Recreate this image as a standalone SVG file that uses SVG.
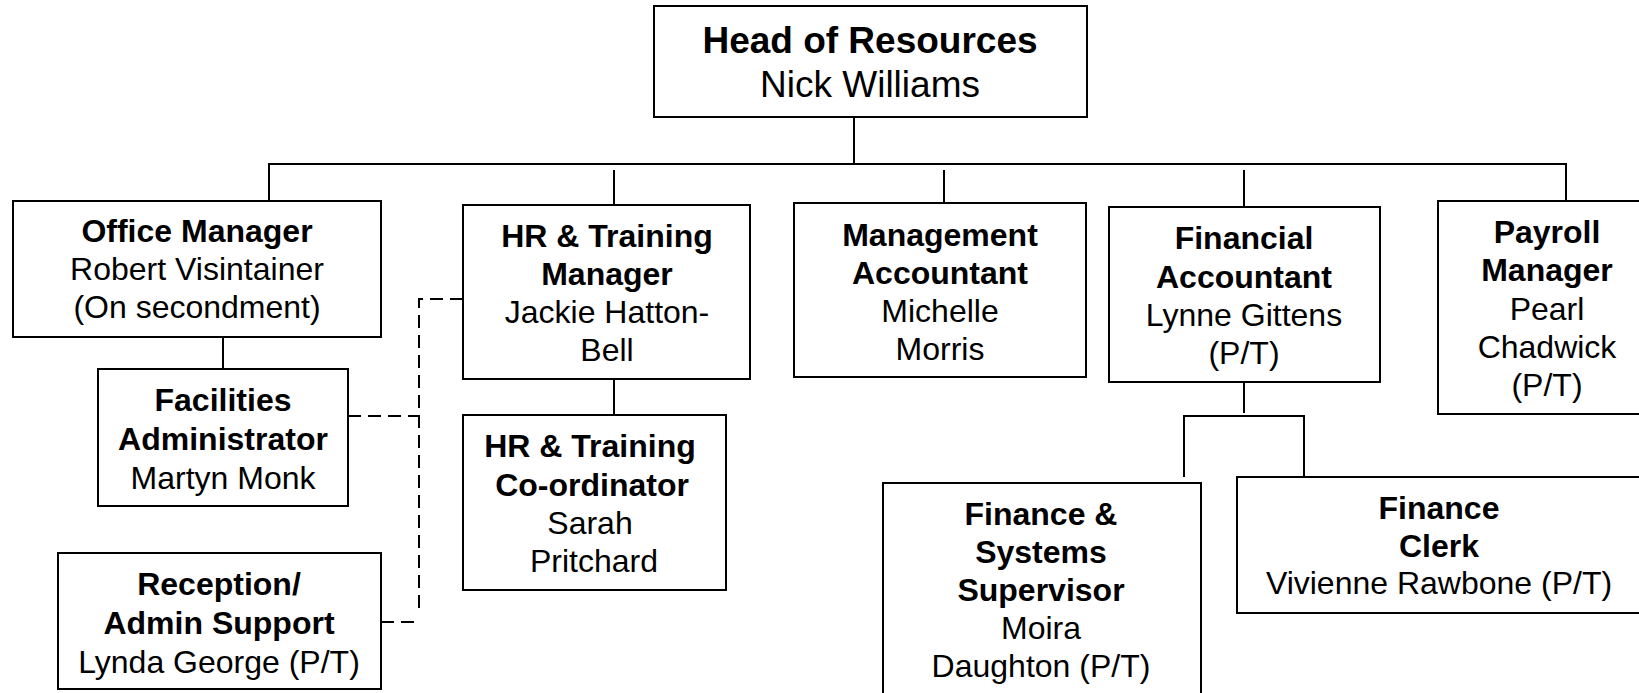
<svg xmlns="http://www.w3.org/2000/svg" width="1639" height="693" viewBox="0 0 1639 693">
<style>
.box{fill:#fff;stroke:#000;stroke-width:2}
.ln{fill:none;stroke:#000;stroke-width:2}
.dash{fill:none;stroke:#000;stroke-width:2;stroke-dasharray:13 7}
text{font-family:"Liberation Sans",Arial,sans-serif;font-size:32px;fill:#000;text-anchor:middle}
.b{font-weight:bold}
.h{font-size:37px}
</style>
<rect width="1639" height="693" fill="#fff"/>
<g id="connectors">
<path class="ln" d="M854 117V164M269 201V164H1566V201M614 170V205M944 170V203M1244 170V207"/>
<path class="ln" d="M223 337V369M614 379V415"/>
<path class="ln" d="M1244 382V413M1184 477V416H1304V477"/>
<path class="dash" d="M463 299H419V613M348 416H419M381 622H421"/>
</g>
<g id="head">
<rect class="box" x="654" y="6" width="433" height="111"/>
<text class="b h" x="870" y="53">Head of Resources</text>
<text class="h" x="870" y="97">Nick Williams</text>
</g>
<g id="office-manager">
<rect class="box" x="13" y="201" width="368" height="136"/>
<text class="b" x="197" y="242">Office Manager</text>
<text x="197" y="280">Robert Visintainer</text>
<text x="197" y="318">(On secondment)</text>
</g>
<g id="hr-manager">
<rect class="box" x="463" y="205" width="287" height="174"/>
<text class="b" x="607" y="247">HR &amp; Training</text>
<text class="b" x="607" y="285">Manager</text>
<text x="607" y="323">Jackie Hatton-</text>
<text x="607" y="361">Bell</text>
</g>
<g id="management-accountant">
<rect class="box" x="794" y="203" width="292" height="174"/>
<text class="b" x="940" y="246">Management</text>
<text class="b" x="940" y="284">Accountant</text>
<text x="940" y="322">Michelle</text>
<text x="940" y="360">Morris</text>
</g>
<g id="financial-accountant">
<rect class="box" x="1109" y="207" width="271" height="175"/>
<text class="b" x="1244" y="249">Financial</text>
<text class="b" x="1244" y="288">Accountant</text>
<text x="1244" y="326">Lynne Gittens</text>
<text x="1244" y="364">(P/T)</text>
</g>
<g id="payroll-manager">
<rect class="box" x="1438" y="201" width="220" height="213"/>
<text class="b" x="1547" y="243">Payroll</text>
<text class="b" x="1547" y="281">Manager</text>
<text x="1547" y="320">Pearl</text>
<text x="1547" y="358">Chadwick</text>
<text x="1547" y="396">(P/T)</text>
</g>
<g id="facilities-administrator">
<rect class="box" x="98" y="369" width="250" height="137"/>
<text class="b" x="223" y="411">Facilities</text>
<text class="b" x="223" y="450">Administrator</text>
<text x="223" y="489">Martyn Monk</text>
</g>
<g id="hr-coordinator">
<rect class="box" x="463" y="415" width="263" height="175"/>
<text class="b" x="590" y="457">HR &amp; Training</text>
<text class="b" x="592" y="496">Co-ordinator</text>
<text x="590" y="534">Sarah</text>
<text x="594" y="572">Pritchard</text>
</g>
<g id="reception">
<rect class="box" x="58" y="553" width="323" height="136"/>
<text class="b" x="219" y="595">Reception/</text>
<text class="b" x="219" y="634">Admin Support</text>
<text x="219" y="673">Lynda George (P/T)</text>
</g>
<g id="finance-systems-supervisor">
<rect class="box" x="883" y="483" width="318" height="220"/>
<text class="b" x="1041" y="525">Finance &amp;</text>
<text class="b" x="1041" y="563">Systems</text>
<text class="b" x="1041" y="601">Supervisor</text>
<text x="1041" y="639">Moira</text>
<text x="1041" y="677">Daughton (P/T)</text>
</g>
<g id="finance-clerk">
<rect class="box" x="1237" y="477" width="420" height="136"/>
<text class="b" x="1439" y="519">Finance</text>
<text class="b" x="1439" y="557">Clerk</text>
<text x="1439" y="594">Vivienne Rawbone (P/T)</text>
</g>
</svg>
